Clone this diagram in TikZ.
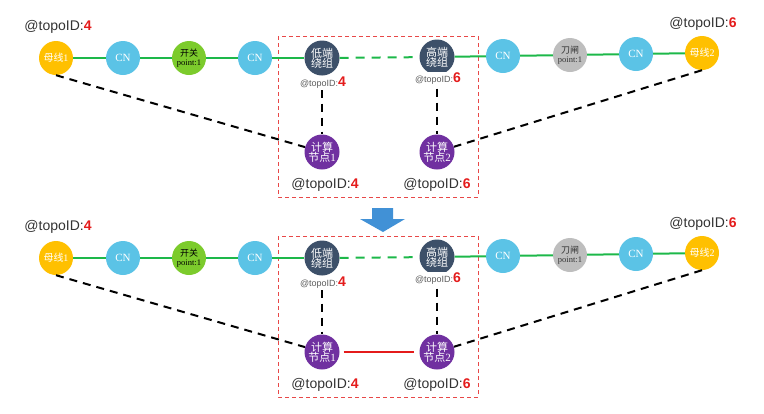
\documentclass[tikz,border=0pt]{standalone}
\usepackage{fontspec}
\setmainfont{Liberation Serif}
\newfontfamily\sansf{Liberation Sans}
\newfontfamily\cjk{Noto Sans CJK SC}
\definecolor{busc}{HTML}{FFC000}
\definecolor{cnc}{HTML}{5BC3E6}
\definecolor{swc}{HTML}{7CCB2C}
\definecolor{knc}{HTML}{BEBEBE}
\definecolor{windc}{HTML}{3D5069}
\definecolor{compc}{HTML}{7030A0}
\definecolor{linec}{HTML}{1DB84A}
\definecolor{idred}{HTML}{E41B1B}
\definecolor{boxred}{HTML}{E84848}
\definecolor{arrowc}{HTML}{4191D6}
\definecolor{labc}{HTML}{333333}
\newcommand{\bigid}[1]{@topoID:{\bfseries\color{idred}#1}}
\newcommand{\smallid}[1]{{\fontsize{9}{10}\selectfont @topoID:}{\fontsize{14}{16}\selectfont\bfseries\color{idred}#1}}
\tikzset{
  dot/.style={circle,minimum size=34pt,inner sep=0pt,align=center,font=\fontsize{10}{11}\selectfont},
  bus/.style={dot,fill=busc,text=white},
  cnode/.style={dot,fill=cnc,text=white,font=\fontsize{11}{12}\selectfont},
  swnode/.style={dot,fill=swc,text=black},
  knnode/.style={dot,fill=knc,text=labc},
  wind/.style={dot,fill=windc,text=white,minimum size=35pt,font=\fontsize{11}{12}\selectfont},
  comp/.style={dot,fill=compc,text=white,minimum size=35pt,font=\fontsize{11}{12}\selectfont},
  bigl/.style={font=\sansf\fontsize{14}{16}\selectfont,text=labc,inner sep=1pt},
  smalll/.style={font=\sansf,text=labc!80,fill=white,inner sep=1pt},
  wire/.style={draw=linec,line width=2pt},
  wiredash/.style={draw=linec,line width=2pt,dash pattern=on 9pt off 7pt},
  link/.style={draw=black,line width=2pt,dash pattern=on 8pt off 6pt},
  redbox/.style={draw=boxred,line width=1pt,dash pattern=on 4pt off 3pt},
}
\begin{document}
\begin{tikzpicture}[x=1pt,y=-1pt]
\useasboundingbox (0,0) rectangle (764,413);
\foreach \oy/\s in {0/a,200/b}{
\begin{scope}[yshift=-\oy pt]
  \node[bus]   (m1\s)  at (56,58)  {{\cjk 母线}1};
  \node[cnode] (cn1\s) at (123,58) {CN};
  \node[swnode](sw\s)  at (189,58) {{\cjk\fontsize{9}{10}\selectfont 开关}\\[-2pt]{\fontsize{8.5}{9}\selectfont point:1}};
  \node[cnode] (cn2\s) at (255,58) {CN};
  \node[wind]  (w1\s)  at (322,58) {\cjk 低端\\[-2pt]\cjk 绕组};
  \node[wind]  (w2\s)  at (437,57) {\cjk 高端\\[-2pt]\cjk 绕组};
  \node[cnode] (cn3\s) at (503,56) {CN};
  \node[knnode](kn\s)  at (570,55) {{\cjk\fontsize{9}{10}\selectfont 刀闸}\\[-2pt]{\fontsize{8.5}{9}\selectfont point:1}};
  \node[cnode] (cn4\s) at (636,54) {CN};
  \node[bus]   (m2\s)  at (702,53) {{\cjk 母线}2};
  \node[comp]  (c1\s)  at (322,152) {\cjk 计算\\[-2pt]{\cjk 节点}1};
  \node[comp]  (c2\s)  at (437,152) {\cjk 计算\\[-2pt]{\cjk 节点}2};
  \draw[redbox] (278,36) rectangle (478,197);
  \draw[wire] (m1\s) -- (cn1\s) -- (sw\s) -- (cn2\s) -- (w1\s);
  \draw[wiredash] (w1\s) -- (w2\s);
  \draw[wire] (w2\s) -- (cn3\s) -- (kn\s) -- (cn4\s) -- (m2\s);
  \draw[link] (w1\s) -- (c1\s);
  \draw[link] (w2\s) -- (c2\s);
  \draw[link] (m1\s.south) -- (c1\s);
  \draw[link] (m2\s.south) -- (c2\s);
  \node[smalll] (s1\s) at (323,83) {\smallid{4}};
  \node[smalll] (s2\s) at (438,79) {\smallid{6}};
  \node[bigl] (t1\s) at (58,27) {\bigid{4}};
  \node[bigl] (t2\s) at (703,24) {\bigid{6}};
  \node[bigl] (b1\s) at (325,185) {\bigid{4}};
  \node[bigl] (b2\s) at (437,185) {\bigid{6}};
\end{scope}
}
\draw[idred,line width=2.5pt,shorten <=4pt,shorten >=5pt] (c1b) -- (c2b);
\fill[arrowc] (372,208) -- (393,208) -- (393,219) -- (405,219) -- (383,232) -- (360,219) -- (372,219) -- cycle;
\end{tikzpicture}
\end{document}
